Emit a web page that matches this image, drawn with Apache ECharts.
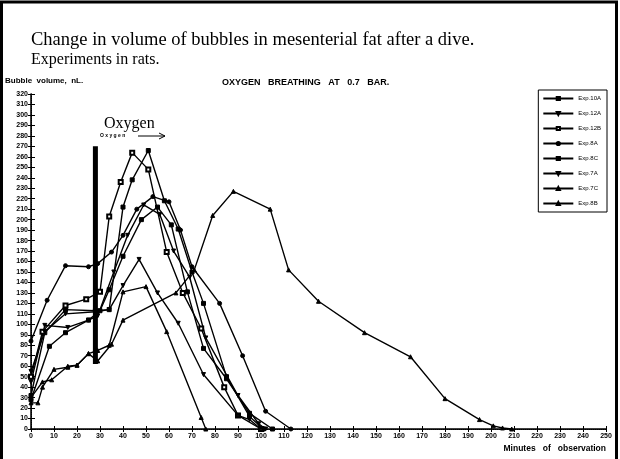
<!DOCTYPE html>
<html><head><meta charset="utf-8">
<script src="https://cdn.jsdelivr.net/npm/echarts@6/dist/echarts.min.js"></script>
<style>html,body{margin:0;padding:0;background:#fff}#c{width:620px;height:459px}</style>
</head><body><div id="c"></div>
<script>
// ---- data (minutes, bubble volume nL) ----
const seriesNames = ['Exp.10A','Exp.12A','Exp.12B','Exp.8A','Exp.8C','Exp.7A','Exp.7C','Exp.8B'];
const exp10A = [[0,32],[6,92],[15,114],[28,113],[34,114],[40,212],[44,238],[51,266],[58,218],[64,191],[70,150],[75,120],[85,50],[95,12],[101,0]];
const exp12A = [[0,45],[6,99],[16,97],[25,104],[29,108],[36,150],[42,185],[49,214],[56,205],[62,170],[69,145],[76,87],[90,32],[99,5],[102,0]];
const exp12B = [[0,50],[5,93],[15,118],[24,124],[30,131],[34,203],[39,236],[44,264],[51,248],[59,169],[66,130],[74,96],[84,40],[90,13],[100,0]];
const exp8A  = [[0,84],[7,123],[15,156],[25,155],[29,158],[35,169],[40,185],[46,210],[53,222],[60,217],[65,190],[70,155],[82,120],[92,70],[102,17],[113,0]];
const exp8C  = [[0,28],[8,79],[15,92],[25,104],[30,113],[34,133],[40,165],[48,200],[55,212],[61,195],[68,131],[75,77],[85,48],[95,15],[105,0]];
const exp7A  = [[0,55],[6,93],[15,110],[28,112],[34,114],[40,137],[47,162],[55,130],[64,101],[75,52],[90,13],[95,9],[100,0]];
const exp7C  = [[0,25],[3,25],[5,40],[10,57],[16,59],[20,61],[25,72],[29,75],[34,80],[40,131],[50,136],[59,93],[74,11],[76,0]];
const exp8B  = [[0,30],[5,45],[9,47],[16,60],[20,61],[25,72],[29,65],[35,81],[40,104],[63,130],[71,152],[79,204],[88,227],[104,210],[112,152],[125,122],[145,92],[165,69],[180,29],[195,9],[201,3],[205,1],[209,0]];
const oxygenStartMin = 28;
const oxygenBarRange = [62, 270];

const allData = [exp10A, exp12A, exp12B, exp8A, exp8C, exp7A, exp7C, exp8B];
const symbols = ['rect','triangle','emptyRect','circle','rect','triangle','triangle','triangle'];
const rotations = [0,180,0,0,0,180,0,0];

const chart = echarts.init(document.getElementById('c'), null, {renderer:'canvas'});
const axisFont = {fontFamily:'Liberation Sans, Arial', fontWeight:'bold', fontSize:7, color:'#000'};

const series = allData.map((d,i)=>({
  name: seriesNames[i], type:'line', data:d,
  symbol: symbols[i], symbolRotate: rotations[i], symbolSize: 4,
  lineStyle:{color:'#000', width:1.4}, itemStyle:{color:'#000', borderColor:'#000', borderWidth:1},
  z: 3, animation:false
}));
series.push({
  name:'oxygen', type:'line', data:[[oxygenStartMin,oxygenBarRange[0]],[oxygenStartMin,oxygenBarRange[1]]],
  symbol:'none', lineStyle:{color:'#000', width:5}, z:2, animation:false, silent:true
});

chart.setOption({
  animation:false,
  backgroundColor:'#fff',
  grid:{left:31, right:14, top:94, bottom:30},
  legend:{
    data: seriesNames, orient:'vertical', right:13, top:90,
    itemWidth:30, itemHeight:4, itemGap:8,
    backgroundColor:'#fff', borderColor:'#000', borderWidth:1, padding:[5,6,5,4],
    textStyle:{fontFamily:'Liberation Sans, Arial', fontSize:6, color:'#000', lineHeight:7}
  },
  xAxis:[{
    type:'value', min:0, max:250, interval:10, position:'bottom',
    axisLine:{lineStyle:{color:'#000', width:1.5}},
    axisTick:{inside:true, length:3, lineStyle:{color:'#000'}},
    axisLabel:Object.assign({margin:4}, axisFont),
    splitLine:{show:false}
  },{
    type:'value', min:0, max:250, interval:10, position:'top',
    axisLine:{lineStyle:{color:'#000', width:1, type:'dotted'}},
    axisTick:{inside:true, length:3, lineStyle:{color:'#000'}},
    axisLabel:{show:false}, splitLine:{show:false}
  }],
  yAxis:[{
    type:'value', min:0, max:320, interval:10, position:'left',
    axisLine:{show:true, lineStyle:{color:'#000', width:1.5}},
    axisTick:{show:true, inside:true, length:4, lineStyle:{color:'#000'}},
    axisLabel:Object.assign({margin:3}, axisFont),
    splitLine:{show:false}
  },{
    type:'value', min:0, max:320, interval:10, position:'right',
    axisLine:{show:true, lineStyle:{color:'#000', width:1, type:'dotted'}},
    axisTick:{show:true, inside:true, length:3, lineStyle:{color:'#000'}},
    axisLabel:{show:false}, splitLine:{show:false}
  }],
  series: series,
  graphic:[
    {type:'rect', shape:{x:1.5,y:2,width:615,height:470}, style:{fill:'none', stroke:'#000', lineWidth:3}},
    {type:'text', left:31, top:31, style:{text:'Change in volume of bubbles in mesenterial fat after a dive.', font:'18.5px "Liberation Serif", "Times New Roman", serif', fill:'#000'}},
    {type:'text', left:31, top:52, style:{text:'Experiments in rats.', font:'16px "Liberation Serif", "Times New Roman", serif', fill:'#000'}},
    {type:'text', left:5, top:77, style:{text:'Bubble  volume,  nL.', font:'bold 8px "Liberation Sans", Arial', fill:'#000'}},
    {type:'text', left:222, top:78, style:{text:'OXYGEN   BREATHING   AT   0.7   BAR.', font:'bold 9px "Liberation Sans", Arial', fill:'#000'}},
    {type:'text', right:14, top:444, style:{text:'Minutes   of   observation', font:'bold 8.5px "Liberation Sans", Arial', fill:'#000'}},
    {type:'text', left:104, top:116, style:{text:'Oxygen', font:'16px "Liberation Serif", "Times New Roman", serif', fill:'#000'}},
    {type:'text', left:100, top:133, style:{text:'O x y g e n', font:'bold 5px "Liberation Sans", Arial', fill:'#000'}},
    {type:'line', shape:{x1:138,y1:136,x2:165,y2:136}, style:{stroke:'#000', lineWidth:1}},
    {type:'polyline', shape:{points:[[159,133],[165,136],[159,139]]}, style:{stroke:'#000', fill:'none', lineWidth:1}}
  ]
});
</script></body></html>
